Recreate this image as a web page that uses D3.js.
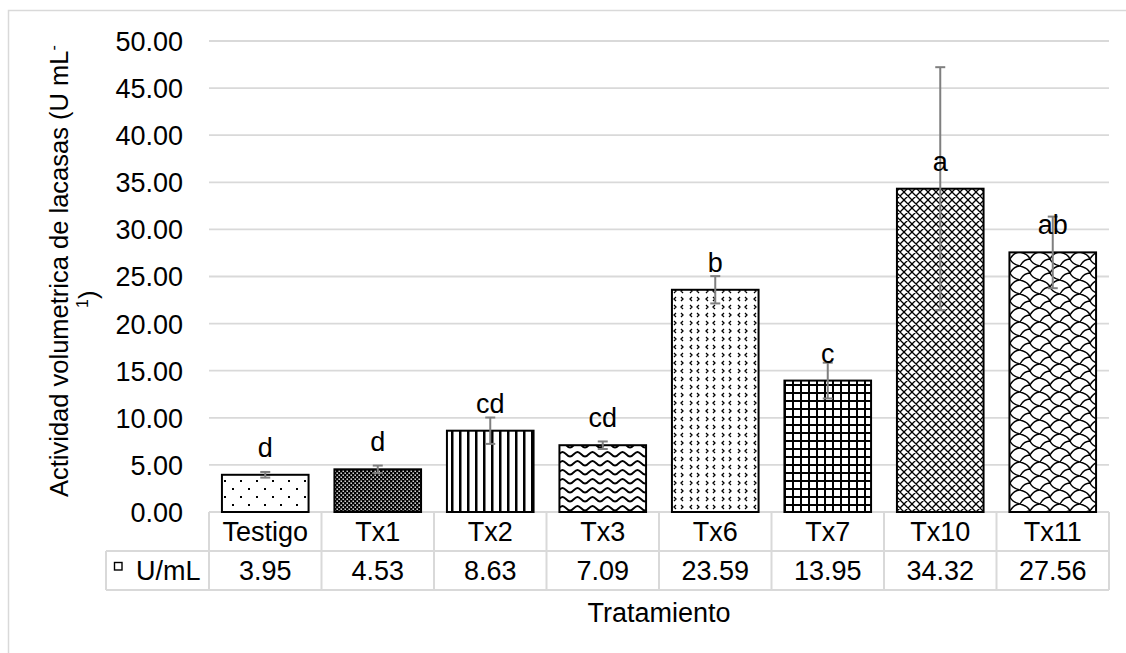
<!DOCTYPE html>
<html>
<head>
<meta charset="utf-8">
<script src="https://d3js.org/d3.v7.min.js"></script>
<style>
body{margin:0;background:#fff;}
text{font-family:"Liberation Sans",Arial,sans-serif;fill:#000;}
</style>
</head>
<body>
<div id="chart"></div>
<script>
// chart data
var categories=["Testigo","Tx1","Tx2","Tx3","Tx6","Tx7","Tx10","Tx11"];
var values=[3.95,4.53,8.63,7.09,23.59,13.95,34.32,27.56];
var errors=[0.3,0.4,1.4,0.4,1.45,1.9,12.9,3.8];
var letters=["d","d","cd","cd","b","c","a","ab"];
var yTicks=[0,5,10,15,20,25,30,35,40,45,50];
var seriesName="U/mL";

var width=1126, height=653;
var margin={top:41,left:209,right:17,bottom:141};
var plotW=width-margin.left-margin.right;   // 900
var plotH=height-margin.top-margin.bottom;  // 471
var fs=27;
var gridColor="#d9d9d9";

var svg=d3.select("#chart").append("svg")
	.attr("width",width).attr("height",height);

// outer chart frame
svg.append("rect")
	.attr("x",8.5).attr("y",10.5).attr("width",1140).attr("height",700)
	.attr("fill","none").attr("stroke",gridColor).attr("stroke-width",1.5);

// fill patterns, one per bar
var defs=svg.append("defs");
function pat(id,w,h){
	var p=defs.append("pattern").attr("id",id)
		.attr("patternUnits","userSpaceOnUse").attr("width",w).attr("height",h);
	p.append("rect").attr("width",w).attr("height",h).attr("fill","#fff");
	return p;
}
var p0=pat("p0",16,16);
p0.append("rect").attr("x",0).attr("y",0).attr("width",2).attr("height",2).attr("fill","#000");
p0.append("rect").attr("x",8).attr("y",8).attr("width",2).attr("height",2).attr("fill","#000");

var p1=defs.append("pattern").attr("id","p1").attr("patternUnits","userSpaceOnUse").attr("width",4).attr("height",4);
p1.append("rect").attr("width",4).attr("height",4).attr("fill","#000");
p1.append("rect").attr("x",0.5).attr("y",0.5).attr("width",1.4).attr("height",1.4).attr("fill","#fff");
p1.append("rect").attr("x",2.5).attr("y",2.5).attr("width",1.4).attr("height",1.4).attr("fill","#fff");

var p2=pat("p2",8,8);
p2.append("rect").attr("x",3).attr("y",0).attr("width",2.5).attr("height",8).attr("fill","#000");

var p3=pat("p3",15,9);
p3.append("path").attr("d","M0,6.5 C3,6.5 4.5,2 7.5,2 C10.5,2 12,6.5 15,6.5")
	.attr("fill","none").attr("stroke","#000").attr("stroke-width",1.8);

var p4=pat("p4",16,16);
p4.append("path").attr("d","M2,1 L4,3 L2,5 M11,1 L9,3 L11,5 M4,9 L2,11 L4,13 M9,9 L11,11 L9,13")
	.attr("fill","none").attr("stroke","#000").attr("stroke-width",1.3);

var p5=pat("p5",8,8);
p5.append("path").attr("d","M0,1 H8 M1,0 V8")
	.attr("fill","none").attr("stroke","#000").attr("stroke-width",2);

var p6=pat("p6",8,8);
p6.append("path").attr("d","M0,0 L8,8 M8,0 L0,8 M-1,7 L1,9 M7,-1 L9,1")
	.attr("fill","none").attr("stroke","#000").attr("stroke-width",1.3);

var p7=pat("p7",20,14);
p7.append("path").attr("d","M0,0 Q8,2 10,7 Q12,12 20,14 M10,7 Q14,0 20,0 M0,14 Q4,7 10,7")
	.attr("fill","none").attr("stroke","#000").attr("stroke-width",1.4);

var fills=["p0","p1","p2","p3","p4","p5","p6","p7"];

var x=d3.scaleBand().domain(categories).range([margin.left,margin.left+plotW]).paddingInner(0.23).paddingOuter(0.115);
var xBand=d3.scaleBand().domain(categories).range([margin.left,margin.left+plotW]);
var y=d3.scaleLinear().domain([0,50]).range([margin.top+plotH,margin.top]);

// gridlines
svg.append("g").selectAll("line").data(yTicks).enter().append("line")
	.attr("x1",margin.left).attr("x2",margin.left+plotW)
	.attr("y1",function(d){return y(d);}).attr("y2",function(d){return y(d);})
	.attr("stroke",gridColor).attr("stroke-width",1.8);

// y axis labels
var yAxis=svg.append("g").attr("transform","translate("+(margin.left-26)+",0)")
	.call(d3.axisLeft(y).tickValues(yTicks).tickSize(0).tickPadding(0).tickFormat(d3.format(".2f")));
yAxis.select(".domain").remove();
yAxis.selectAll("text").attr("font-size",fs).attr("font-family","Liberation Sans, Arial, sans-serif").attr("fill","#000").attr("dy","0.35em");

// bars
svg.append("g").selectAll("rect").data(values).enter().append("rect")
	.attr("x",function(d,i){return x(categories[i]);})
	.attr("width",x.bandwidth())
	.attr("y",function(d){return y(d);})
	.attr("height",function(d){return y(0)-y(d);})
	.attr("fill",function(d,i){return "url(#"+fills[i]+")";})
	.attr("stroke","#000").attr("stroke-width",2);

// error bars
var eb=svg.append("g").attr("stroke","#7f7f7f").attr("stroke-width",2);
values.forEach(function(v,i){
	var cx=x(categories[i])+x.bandwidth()/2;
	var hi=y(v+errors[i]), lo=y(v-errors[i]);
	eb.append("line").attr("x1",cx).attr("x2",cx).attr("y1",hi).attr("y2",lo);
	eb.append("line").attr("x1",cx-5).attr("x2",cx+5).attr("y1",hi).attr("y2",hi);
	eb.append("line").attr("x1",cx-5).attr("x2",cx+5).attr("y1",lo).attr("y2",lo);
});

// significance letters
svg.append("g").selectAll("text").data(letters).enter().append("text")
	.attr("x",function(d,i){return x(categories[i])+x.bandwidth()/2;})
	.attr("y",function(d,i){return y(values[i])-18;})
	.attr("text-anchor","middle").attr("font-size",fs)
	.text(function(d){return d;});

// data table under the axis
var rowTop=y(0), rowMid=rowTop+39, rowBot=rowTop+78;
var tbl=svg.append("g");
var tl=tbl.append("g").attr("stroke",gridColor).attr("stroke-width",2);
tl.append("line").attr("x1",106).attr("x2",margin.left+plotW).attr("y1",rowMid).attr("y2",rowMid);
tl.append("line").attr("x1",106).attr("x2",margin.left+plotW).attr("y1",rowBot).attr("y2",rowBot);
tl.append("line").attr("x1",106).attr("x2",106).attr("y1",rowMid).attr("y2",rowBot);
tl.selectAll(".v").data(categories.concat(["end"])).enter().append("line")
	.attr("x1",function(d,i){return margin.left+i*xBand.bandwidth();})
	.attr("x2",function(d,i){return margin.left+i*xBand.bandwidth();})
	.attr("y1",rowTop).attr("y2",rowBot);

tbl.selectAll(".cat").data(categories).enter().append("text")
	.attr("x",function(d){return xBand(d)+xBand.bandwidth()/2;})
	.attr("y",rowTop+29).attr("text-anchor","middle").attr("font-size",fs)
	.text(function(d){return d;});
tbl.selectAll(".val").data(values).enter().append("text")
	.attr("x",function(d,i){return xBand(categories[i])+xBand.bandwidth()/2;})
	.attr("y",rowMid+29).attr("text-anchor","middle").attr("font-size",fs)
	.text(function(d){return d3.format(".2f")(d);});

// legend key in table
tbl.append("rect").attr("x",114.5).attr("y",562.5).attr("width",7.5).attr("height",7.5)
	.attr("fill","#fff").attr("stroke","#000").attr("stroke-width",1.4);
tbl.append("text").attr("x",136).attr("y",rowMid+29).attr("font-size",fs).text(seriesName);

// axis titles
svg.append("text").attr("x",margin.left+plotW/2).attr("y",622).attr("text-anchor","middle")
	.attr("font-size",fs).text("Tratamiento");

var yt=svg.append("text").attr("transform","translate(68,497) rotate(-90)").attr("font-size",25.5);
yt.append("tspan").text("Actividad volumetrica de lacasas (U mL");
yt.append("tspan").attr("dy",-9).attr("font-size",16).text("-");
var yt2=svg.append("text").attr("transform","translate(97,308) rotate(-90)").attr("font-size",25.5);
yt2.append("tspan").attr("dy",-9).attr("font-size",16).text("1");
yt2.append("tspan").attr("dy",9).text(")");
</script>
</body>
</html>
